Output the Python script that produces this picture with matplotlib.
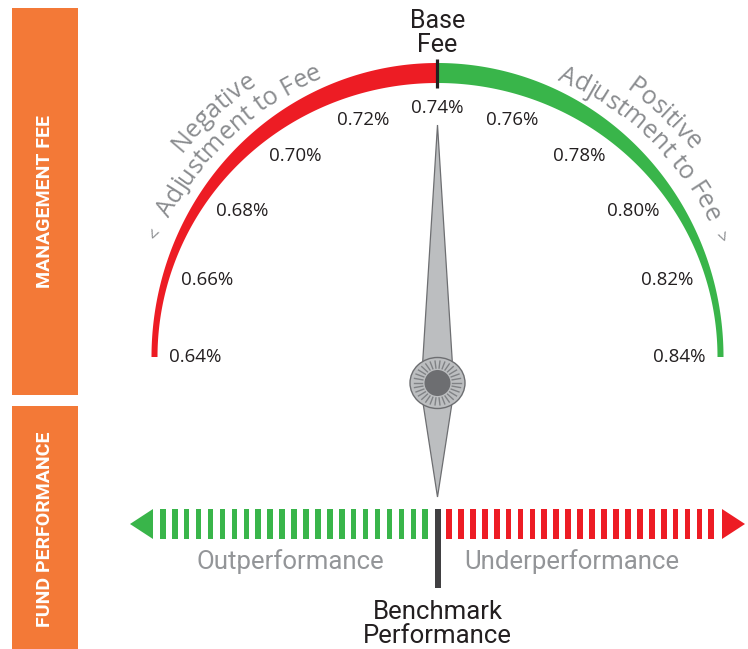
import numpy as np
import matplotlib
matplotlib.use('Agg')
import matplotlib.pyplot as plt
from matplotlib.patches import Polygon, Ellipse, Rectangle
from matplotlib.font_manager import FontProperties, findfont, get_font

# ---- data ----
fee_ticks = [0.64, 0.66, 0.68, 0.70, 0.72, 0.74, 0.76, 0.78, 0.80, 0.82, 0.84]
fee_labels = ['0.64%', '0.66%', '0.68%', '0.70%', '0.72%', '0.74%',
              '0.76%', '0.78%', '0.80%', '0.82%', '0.84%']
base_fee = 0.74
fee_min, fee_max = 0.64, 0.84
n_out_stripes = 23
n_under_stripes = 23
side_labels = ['MANAGEMENT FEE', 'FUND PERFORMANCE']
perf_labels = ['Outperformance', 'Underperformance']
neg_lines = ['Negative', 'Adjustment to Fee']
pos_lines = ['Positive', 'Adjustment to Fee']
base_label = 'Base\nFee'
bench_label = 'Benchmark\nPerformance'

RED = '#ED1C24'
GREEN = '#39B54A'
ORANGE = '#F37937'
DARK = '#231F20'
GRAY_TXT = '#8A8C8F'
NEEDLE = '#BCBEC0'
NEEDLE_EDGE = '#6D6E71'

W, H = 748, 649
fig = plt.figure(figsize=(W / 100, H / 100), dpi=100)
ax = fig.add_axes([0, 0, 1, 1])
ax.set_xlim(0, W)
ax.set_ylim(H, 0)
ax.axis('off')

CX, CY = 437.5, 357.0
TICK_FONT = 'Open Sans'
LBL_FONT = 'Roboto'


def ang(v):
    return np.pi * (fee_max - v) / (fee_max - fee_min)


def arc_band(v0, v1, color):
    t = np.linspace(ang(v0), ang(v1), 300)
    xo = CX + 286 * np.cos(t)
    yo = CY - 294 * np.sin(t)
    xi = CX + 280 * np.cos(t[::-1])
    yi = CY - 274 * np.sin(t[::-1])
    ax.add_patch(Polygon(np.column_stack([np.r_[xo, xi], np.r_[yo, yi]]),
                         closed=True, fc=color, ec='none'))


arc_band(fee_min, base_fee, RED)
arc_band(base_fee, fee_max, GREEN)
ax.plot([CX, CX], [CY - 298, CY - 269], color=DARK, lw=2.3, solid_capstyle='butt')

# tick labels
for v, lab in zip(fee_ticks, fee_labels):
    t = ang(v)
    x = CX + 242 * np.cos(t)
    y = CY - 249 * np.sin(t)
    ax.text(x, y, lab, ha='center', va='center', fontsize=13.5,
            family=TICK_FONT, color=DARK)

# curved text
renderer = fig.canvas.get_renderer()


def curved_text(s, mid_deg, r_base, size, color, family):
    fp = FontProperties(family=family, size=size)
    font = get_font(findfont(fp))
    font.set_size(size, 100)
    advs = np.array([font.load_char(ord(c)).linearHoriAdvance / 65536.0 for c in s])
    tmp = ax.text(0, 0, s, fontproperties=fp)
    wtot = tmp.get_window_extent(renderer).width
    tmp.remove()
    if advs.sum() > 0:
        advs = advs * (wtot / advs.sum())
    total = advs.sum()
    start = np.deg2rad(mid_deg) + total / 2 / r_base
    cum = 0.0
    for c, a in zip(s, advs):
        th = start - (cum + a / 2) / r_base
        x = CX + r_base * np.cos(th)
        y = CY - r_base * np.sin(th)
        if c != ' ':
            ax.text(x, y, c, rotation=np.rad2deg(th) - 90, rotation_mode='anchor',
                    ha='center', va='baseline', fontproperties=fp, color=color)
        cum += a


curved_text(neg_lines[0], 132.5, 327, 18, GRAY_TXT, TICK_FONT)
curved_text(neg_lines[1], 132.5, 302, 18, GRAY_TXT, TICK_FONT)
curved_text(pos_lines[0], 47.0, 327, 18, GRAY_TXT, TICK_FONT)
curved_text(pos_lines[1], 46.5, 302, 18, GRAY_TXT, TICK_FONT)
curved_text('<', 156.5, 303, 13, GRAY_TXT, TICK_FONT)
curved_text('>', 23.0, 303, 13, GRAY_TXT, TICK_FONT)

# needle (local coords: along = toward pointed value, perp = sideways)
PX, PY = 437.5, 383.0
na = ang(base_fee)
ux, uy = np.cos(na), -np.sin(na)
vx, vy = np.sin(na), np.cos(na)


def loc(a, p):
    return (PX + a * ux + p * vx, PY + a * uy + p * vy)


upper = [loc(258, 0), loc(18, -15), loc(18, 15)]
lower = [loc(-114, 0), loc(-20, 14.5), loc(-20, -14.5)]
for pts in (upper, lower):
    ax.add_patch(Polygon(pts, closed=True, fc=NEEDLE, ec=NEEDLE_EDGE, lw=0.9, zorder=5))
ax.add_patch(Ellipse((PX, PY), 55, 51, fc=NEEDLE, ec=NEEDLE_EDGE, lw=1.0, zorder=6))
for k in range(30):
    t = 2 * np.pi * k / 30
    ax.plot([PX + 15 * np.cos(t), PX + 23.5 * np.cos(t)],
            [PY + 15 * np.sin(t), PY + 22 * np.sin(t)],
            color='#808285', lw=1.0, zorder=7)
ax.add_patch(Ellipse((PX, PY), 26, 26, fc=NEEDLE_EDGE, ec='none', zorder=8))

# performance bar
BAR_TOP, BAR_H = 509, 30
period = 11.93
gx = 160 + period * np.arange(n_out_stripes)
rx = 446 + period * np.arange(n_under_stripes)
ax.bar(gx, BAR_H, width=5.6, bottom=BAR_TOP, align='edge', color=GREEN, lw=0)
ax.bar(rx, BAR_H, width=5.8, bottom=BAR_TOP, align='edge', color=RED, lw=0)
ax.add_patch(Polygon([(130, 524), (153, 509), (153, 539)], closed=True, fc=GREEN, ec='none'))
ax.add_patch(Polygon([(722, 509), (745, 524), (722, 539)], closed=True, fc=RED, ec='none'))
ax.add_patch(Rectangle((435, 509), 6, 79, fc='#414042', ec='none'))

ax.text(290, 562, perf_labels[0], ha='center', va='center', fontsize=18.5,
        family=LBL_FONT, color='#939598')
ax.text(572, 562, perf_labels[1], ha='center', va='center', fontsize=18.5,
        family=LBL_FONT, color='#939598')
ax.text(CX, 624, bench_label, ha='center', va='center', fontsize=18.5,
        family=LBL_FONT, color=DARK, linespacing=1.0)
ax.text(CX, 33, base_label, ha='center', va='center', fontsize=18,
        family=LBL_FONT, color=DARK, linespacing=1.0)

# side bars
ax.add_patch(Rectangle((12, 8), 66, 387, fc=ORANGE, ec='none'))
ax.add_patch(Rectangle((12, 406), 66, 243, fc=ORANGE, ec='none'))
side_fp = dict(family=['Liberation Sans Narrow', 'Roboto'], weight='bold', size=14)
ax.text(45.5, 202, side_labels[0], rotation=90, ha='center', va='center',
        color='white', **side_fp)
ax.text(45.5, 529, side_labels[1], rotation=90, ha='center', va='center',
        color='white', **side_fp)

fig.savefig('out.png', dpi=100)
